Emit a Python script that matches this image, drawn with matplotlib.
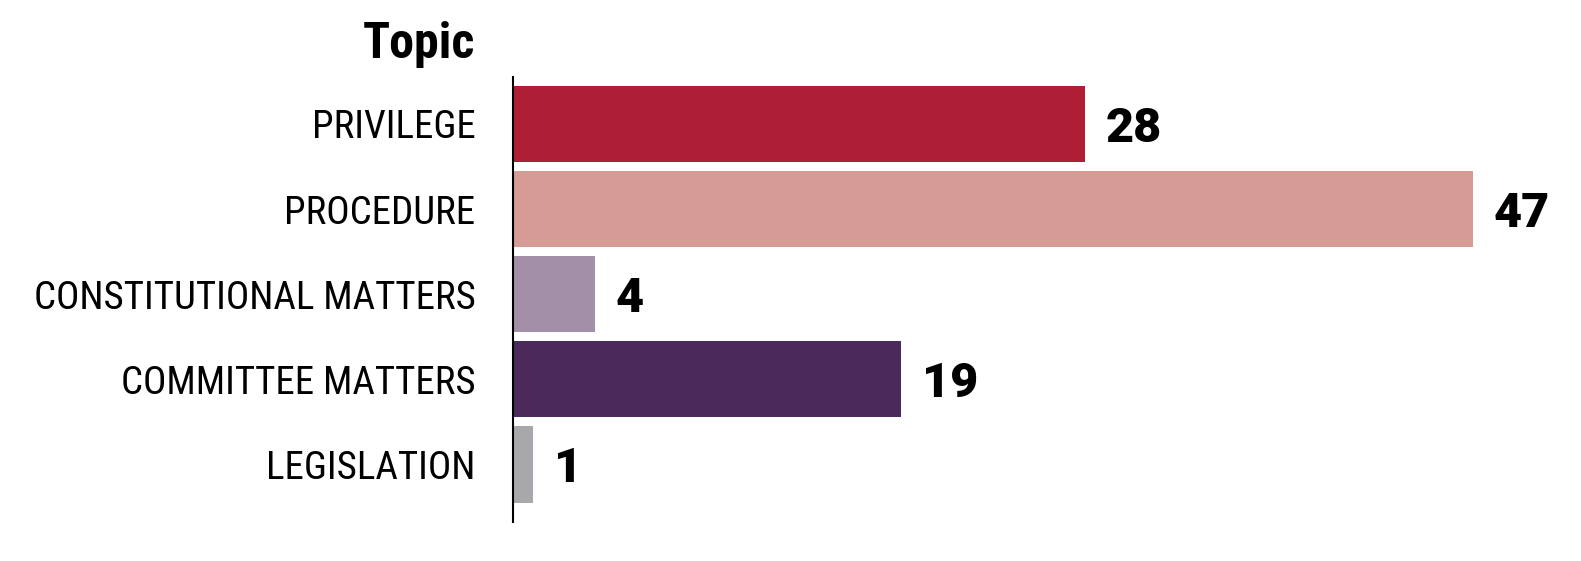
import matplotlib.pyplot as plt
from matplotlib import font_manager

topics = ['PRIVILEGE', 'PROCEDURE', 'CONSTITUTIONAL MATTERS', 'COMMITTEE MATTERS', 'LEGISLATION']
counts = [28, 47, 4, 19, 1]
colors = ['#AE1E35', '#D69B94', '#A390A8', '#4B2A5B', '#A8A8AC']

names = {f.name for f in font_manager.fontManager.ttflist}
cond = [n for n in ['Roboto Condensed', 'Liberation Sans Narrow', 'Open Sans Condensed'] if n in names]
narrow = cond[:1] + ['Liberation Sans', 'DejaVu Sans']
label_size = 28 if cond else 23

fig = plt.figure(figsize=(15.81, 5.61), dpi=100)
ax = fig.add_axes([513 / 1581, 1 - 522 / 561, 960 / 1581, 445 / 561])

y = list(range(len(topics)))
ax.barh(y, counts, height=0.895, color=colors)
ax.set_xlim(0, 47)
ax.set_ylim(4.676, -0.552)

for yi, v in zip(y, counts):
    ax.annotate(str(v), (v, yi), xytext=(15, 0), textcoords='offset points',
                va='center_baseline', ha='left', fontsize=35, fontweight='black',
                family=['Roboto', 'Liberation Sans', 'DejaVu Sans'], annotation_clip=False)

ax.set_yticks(y)
ax.set_yticklabels(topics, fontsize=label_size, family=narrow)
ax.tick_params(axis='y', length=0, pad=27)
ax.set_xticks([])
for s in ['top', 'right', 'bottom']:
    ax.spines[s].set_visible(False)
ax.spines['left'].set_linewidth(1.5)

fig.text(475 / 1581, 1 - 58 / 561, 'Topic', ha='right', va='baseline', fontsize=36 if cond else 33,
         fontweight='bold', family=narrow)

fig.savefig('out.png', dpi=100)
